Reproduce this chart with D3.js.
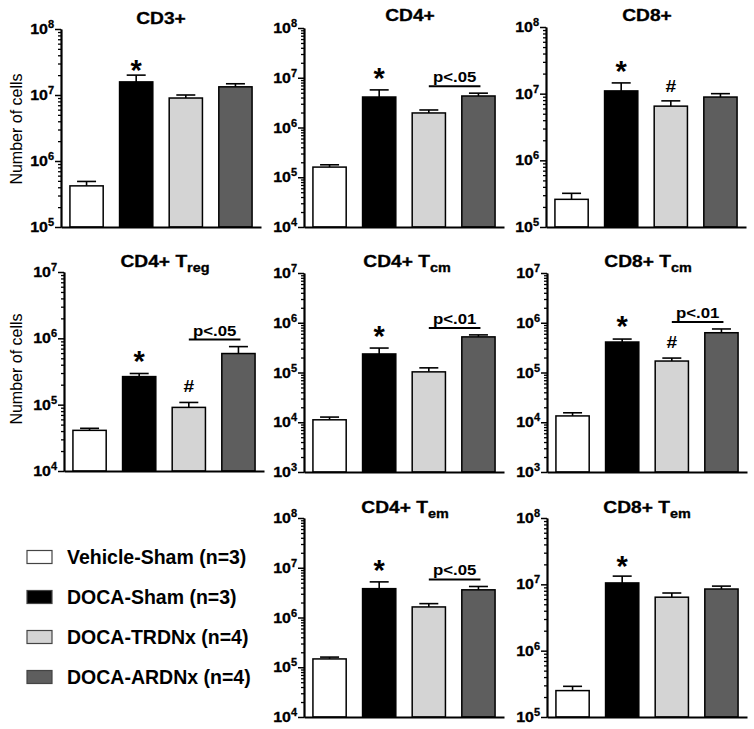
<!DOCTYPE html>
<html>
<head>
<meta charset="utf-8">
<script src="https://cdn.jsdelivr.net/npm/d3@7"></script>
<style>
  body { margin: 0; background: #fff; }
  text { font-family: "Liberation Sans", Arial, sans-serif; }
</style>
</head>
<body>
<div id="chart"></div>
<script>
// groups + fills
const groups = ["Vehicle-Sham (n=3)", "DOCA-Sham (n=3)", "DOCA-TRDNx (n=4)", "DOCA-ARDNx (n=4)"];
const colors = ["#ffffff", "#000000", "#d4d4d4", "#5e5e5e"];

// means and SEM, one array per panel
const cd3Mean = [4.2e5, 1.58e7, 9.0e6, 1.33e7];
const cd3Sem = [7e4, 4.2e6, 1.0e6, 1.5e6];
const cd4Mean = [1.6e5, 4.1e6, 1.96e6, 4.3e6];
const cd4Sem = [1.8e4, 1.6e6, 2.9e5, 6e5];
const cd8Mean = [2.6e5, 1.1e7, 6.5e6, 8.9e6];
const cd8Sem = [6e4, 3.5e6, 1.3e6, 1.1e6];
const tregMean = [4.1e4, 2.65e5, 9.1e4, 5.9e5];
const tregSem = [3e3, 3e4, 1.7e4, 1.6e5];
const cd4TcmMean = [1.12e4, 2.36e5, 1.03e5, 5.2e5];
const cd4TcmSem = [1.5e3, 7.4e4, 2.1e4, 5e4];
const cd8TcmMean = [1.34e4, 4.1e5, 1.7e5, 6.3e5];
const cd8TcmSem = [2.1e3, 6e4, 2.5e4, 1.2e5];
const cd4TemMean = [1.47e5, 3.8e6, 1.63e6, 3.6e6];
const cd4TemSem = [1.3e4, 1.4e6, 2.7e5, 6e5];
const cd8TemMean = [2.5e5, 1.05e7, 6.4e6, 8.5e6];
const cd8TemSem = [4e4, 2.8e6, 1.0e6, 9e5];

// significance marks above bars, and bracket labels (TRDNx vs ARDNx)
const cd3Marks = ["", "*", "", ""];
const cd4Marks = ["", "*", "", ""];
const cd8Marks = ["", "*", "#", ""];
const tregMarks = ["", "*", "#", ""];
const cd4TcmMarks = ["", "*", "", ""];
const cd8TcmMarks = ["", "*", "#", ""];
const cd4TemMarks = ["", "*", "", ""];
const cd8TemMarks = ["", "*", "", ""];
const pLabels = ["", "p<.05", "", "p<.05", "p<.01", "p<.01", "p<.05", ""];

// y axis ranges (powers of ten)
const cd3Domain = [1e5, 1e8];
const cd4Domain = [1e4, 1e8];
const cd8Domain = [1e5, 1e8];
const tregDomain = [1e4, 1e7];
const tcmDomain = [1e3, 1e7];
const cd4TemDomain = [1e4, 1e8];
const cd8TemDomain = [1e5, 1e8];

const W = 754, H = 729;
const svg = d3.select("#chart").append("svg")
    .attr("width", W)
    .attr("height", H);

const panels = [
    { title: "CD3+", sub: "", mean: cd3Mean, sem: cd3Sem, marks: cd3Marks, dom: cd3Domain, ax: 61, top: 29, bottom: 227, tx: 161, ty: 24, starGap: 8 },
    { title: "CD4+", sub: "", mean: cd4Mean, sem: cd4Sem, marks: cd4Marks, dom: cd4Domain, ax: 304, top: 28, bottom: 227, tx: 410, ty: 21, starGap: 15 },
    { title: "CD8+", sub: "", mean: cd8Mean, sem: cd8Sem, marks: cd8Marks, dom: cd8Domain, ax: 546, top: 27, bottom: 227, tx: 647, ty: 21, starGap: 15 },
    { title: "CD4+ T", sub: "reg", mean: tregMean, sem: tregSem, marks: tregMarks, dom: tregDomain, ax: 64, top: 272, bottom: 471, tx: 165, ty: 267, starGap: 16 },
    { title: "CD4+ T", sub: "cm", mean: cd4TcmMean, sem: cd4TcmSem, marks: cd4TcmMarks, dom: tcmDomain, ax: 304, top: 273, bottom: 472, tx: 407, ty: 267, starGap: 15 },
    { title: "CD8+ T", sub: "cm", mean: cd8TcmMean, sem: cd8TcmSem, marks: cd8TcmMarks, dom: tcmDomain, ax: 547, top: 273, bottom: 472, tx: 648, ty: 267, starGap: 16 },
    { title: "CD4+ T", sub: "em", mean: cd4TemMean, sem: cd4TemSem, marks: cd4TemMarks, dom: cd4TemDomain, ax: 304, top: 518, bottom: 717, tx: 405, ty: 513, starGap: 15 },
    { title: "CD8+ T", sub: "em", mean: cd8TemMean, sem: cd8TemSem, marks: cd8TemMarks, dom: cd8TemDomain, ax: 547, top: 518, bottom: 717, tx: 647, ty: 513, starGap: 13 }
];

const SX = 1.2; // the figure's lettering is a bit wide

function wideText(g, x, y, anchor, sx) {
    return g.append("text")
        .attr("transform", "translate(" + x + "," + y + ") scale(" + (sx || SX) + ",1)")
        .attr("text-anchor", anchor);
}

panels.forEach((p, pi) => {
    const g = svg.append("g");
    const x = d3.scaleBand().domain(groups)
        .range([p.ax, p.ax + 200])
        .paddingInner(0.33)
        .paddingOuter(0.18);
    const y = d3.scaleLog().domain(p.dom).range([p.bottom, p.top]);

    const rows = groups.map((k, i) => ({ k: k, m: p.mean[i], s: p.sem[i], c: colors[i], mark: p.marks[i] }));
    const cap = 9.5;

    // error bars (upper only)
    g.selectAll("line.err").data(rows).join("line")
        .attr("class", "err")
        .attr("x1", d => x(d.k) + x.bandwidth() / 2)
        .attr("x2", d => x(d.k) + x.bandwidth() / 2)
        .attr("y1", d => y(d.m))
        .attr("y2", d => y(d.m + d.s))
        .attr("stroke", "#000").attr("stroke-width", 1.6);
    g.selectAll("line.cap").data(rows).join("line")
        .attr("class", "cap")
        .attr("x1", d => x(d.k) + x.bandwidth() / 2 - cap)
        .attr("x2", d => x(d.k) + x.bandwidth() / 2 + cap)
        .attr("y1", d => y(d.m + d.s))
        .attr("y2", d => y(d.m + d.s))
        .attr("stroke", "#000").attr("stroke-width", 1.6);

    g.selectAll("rect").data(rows).join("rect")
        .attr("x", d => x(d.k))
        .attr("width", x.bandwidth())
        .attr("y", d => y(d.m))
        .attr("height", d => p.bottom - y(d.m))
        .attr("fill", d => d.c)
        .attr("stroke", "#000")
        .attr("stroke-width", 1.5);

    // x axis: plain line
    g.append("g")
        .attr("transform", "translate(0," + p.bottom + ")")
        .call(d3.axisBottom(x).tickSize(0).tickSizeOuter(0).tickFormat(""))
        .call(a => a.select(".domain").attr("stroke-width", 2));

    // y axis: minor + major ticks
    const majors = d3.range(Math.log10(p.dom[0]), Math.log10(p.dom[1]) + 1).map(e => Math.pow(10, e));
    const minors = y.ticks().filter(v => majors.indexOf(v) < 0);
    g.append("g")
        .attr("transform", "translate(" + p.ax + ",0)")
        .call(d3.axisLeft(y).tickValues(minors).tickSize(3).tickSizeOuter(0).tickFormat(""))
        .call(a => a.selectAll("line").attr("stroke-width", 1.3));
    g.append("g")
        .attr("transform", "translate(" + p.ax + ",0)")
        .call(d3.axisLeft(y).tickValues(majors).tickSize(6).tickSizeOuter(0).tickFormat(""))
        .call(a => a.select(".domain").attr("stroke-width", 2.2))
        .call(a => a.selectAll("line").attr("stroke-width", 1.5));

    majors.forEach(v => {
        const t = wideText(g, p.ax - 7, y(v) + 5, "end", 1.1)
            .attr("font-weight", "bold").attr("font-size", 14.5)
            .attr("stroke", "#000").attr("stroke-width", 0.3);
        t.append("tspan").text("10");
        t.append("tspan").attr("dy", -6).attr("font-size", 10).text(Math.round(Math.log10(v)));
    });

    // title
    const tt = wideText(g, p.tx, p.ty, "middle")
        .attr("font-weight", "bold").attr("font-size", 16)
        .attr("stroke", "#000").attr("stroke-width", 0.3);
    tt.append("tspan").text(p.title);
    if (p.sub) tt.append("tspan").attr("dy", 5).attr("font-size", 12).text(p.sub);

    // * and # marks
    rows.forEach(d => {
        if (!d.mark) return;
        const cx = x(d.k) + x.bandwidth() / 2;
        const top = y(d.m + d.s);
        if (d.mark === "*") {
            g.append("text").attr("x", cx).attr("y", top - p.starGap + 13)
                .attr("text-anchor", "middle").attr("font-weight", "bold")
                .attr("font-size", 29).text("*");
        } else {
            wideText(g, cx, top - p.starGap + 6, "middle")
                .attr("font-weight", "bold").attr("font-size", 16).text(d.mark);
        }
    });

    // bracket TRDNx vs ARDNx
    if (pLabels[pi]) {
        const x1 = x(groups[2]) + x.bandwidth() / 2;
        const x2 = x(groups[3]) + x.bandwidth() / 2 + 2;
        const ly = y(rows[3].m + rows[3].s) - 7;
        g.append("line").attr("x1", x1).attr("x2", x2).attr("y1", ly).attr("y2", ly)
            .attr("stroke", "#000").attr("stroke-width", 2);
        wideText(g, (x1 + x2) / 2, ly - 4, "middle")
            .attr("font-weight", "bold").attr("font-size", 14).text(pLabels[pi]);
    }
});

// y axis titles
[129, 369].forEach(cy => {
    svg.append("text")
        .attr("transform", "translate(22," + cy + ") rotate(-90)")
        .attr("text-anchor", "middle")
        .attr("font-size", 16)
        .text("Number of cells");
});

// legend
const legend = svg.append("g");
const ly = d3.scalePoint().domain(groups).range([557, 677]);
legend.selectAll("rect").data(groups).join("rect")
    .attr("x", 27).attr("y", d => ly(d) - 6.5)
    .attr("width", 25).attr("height", 13)
    .attr("fill", (d, i) => colors[i])
    .attr("stroke", "#444").attr("stroke-width", 1.2);
legend.selectAll("text").data(groups).join("text")
    .attr("x", 67).attr("y", d => ly(d) + 7)
    .attr("font-weight", "bold").attr("font-size", 19.5)
    .text(d => d);
</script>
</body>
</html>
